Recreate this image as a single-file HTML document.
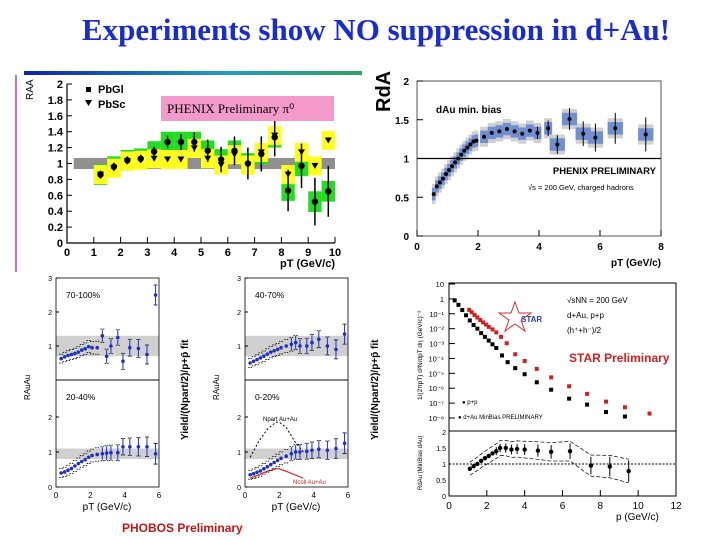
<!DOCTYPE html>
<html><head><meta charset="utf-8"><style>
html,body{margin:0;padding:0;background:#fff}
svg{display:block;font-family:"Liberation Sans",sans-serif}
</style></head><body>
<svg id="s" width="720" height="540" viewBox="0 0 720 540" xmlns="http://www.w3.org/2000/svg">
<defs><linearGradient id="gb" x1="0" x2="1"><stop offset="0" stop-color="#1020b0"/><stop offset="0.6" stop-color="#20a0c0"/><stop offset="1" stop-color="#30a060"/></linearGradient></defs>
<text x="376" y="40" text-anchor="middle" font-family="Liberation Serif,serif" font-weight="bold" font-size="31" fill="#1a2ccc">Experiments show NO suppression in d+Au!</text>
<rect x="24" y="71" width="338" height="4" fill="url(#gb)"/>
<line x1="16" y1="75" x2="16" y2="272" stroke="#b040b0" stroke-width="1.5"/>
<g id="g1"></g>
<g id="g2"></g>
<g id="g3"></g>
<g id="g4"></g>
</svg>
<script>
// ---- PHENIX pi0 ----
const p1Pt=[1.25,1.75,2.25,2.75,3.25,3.75,4.25,4.75,5.25,5.75,6.25,6.75,7.25,7.75,8.25,8.75,9.25,9.75];
const p1PbGl=[0.86,0.96,1.04,1.06,1.15,1.27,1.27,1.27,1.16,1.05,1.16,1.0,1.12,1.33,0.66,0.97,0.52,0.65];
const p1PbSc=[0.86,0.94,1.03,1.04,1.06,1.05,1.05,1.19,1.06,0.98,1.11,0.98,1.14,1.35,0.86,1.14,0.97,1.29];
const p1YTicks=[0,0.2,0.4,0.6,0.8,1,1.2,1.4,1.6,1.8,2];
const p1XTicks=[0,1,2,3,4,5,6,7,8,9,10];
// ---- PHENIX charged ----
const p2Pt=[0.55,0.65,0.75,0.85,0.95,1.05,1.15,1.25,1.35,1.45,1.55,1.65,1.75,1.85,1.95,2.2,2.45,2.7,2.95,3.2,3.45,3.7,3.95,4.3,4.6,5.0,5.45,5.85,6.5,7.5];
const p2R=[0.54,0.64,0.69,0.74,0.8,0.85,0.9,0.95,1.0,1.05,1.1,1.14,1.18,1.22,1.23,1.28,1.33,1.35,1.38,1.35,1.32,1.36,1.33,1.39,1.18,1.51,1.32,1.27,1.39,1.31];
const p2YTicks=[0,0.5,1,1.5,2];
const p2XTicks=[0,2,4,6,8];
// ---- PHOBOS ----
const phPt=[0.3,0.5,0.7,0.9,1.1,1.3,1.5,1.7,1.9,2.1,2.4,2.7,2.95,3.2,3.6,3.9,4.3,4.8,5.3,5.8];
const ph70=[0.63,0.68,0.72,0.75,0.78,0.82,0.88,0.92,0.98,0.95,0.95,1.3,0.7,1.0,1.25,0.55,0.95,0.93,0.75,2.5];
const ph40=[0.5,0.55,0.6,0.65,0.7,0.76,0.82,0.86,0.9,0.95,1.0,1.05,1.1,1.0,1.0,1.1,1.2,1.0,0.9,1.35];
const ph20=[0.4,0.43,0.48,0.53,0.6,0.67,0.73,0.78,0.85,0.9,0.93,0.95,0.97,0.98,0.98,1.15,1.15,1.15,1.15,0.95];
const ph00=[0.35,0.38,0.42,0.46,0.52,0.58,0.64,0.7,0.76,0.82,0.88,0.95,1.0,1.0,1.02,1.05,1.08,1.05,1.1,1.25];
const phCurvePt=[0.3,0.8,1.3,1.8,2.0,2.4,2.9,3.4];
const phNcollBlack=[0.85,1.3,1.65,1.85,1.85,1.7,1.3,1.0];
const phNcollRed=[0.25,0.35,0.45,0.52,0.52,0.45,0.35,0.25];
// ---- STAR ----
const stPpPt=[0.3,0.5,0.7,0.9,1.1,1.3,1.5,1.7,1.9,2.1,2.3,2.5,2.8,3.1,3.5,4.0,4.64,5.4,6.35,7.3,8.3,9.3];
const stPpLog=[-0.1,-0.4,-0.75,-1.1,-1.45,-1.75,-2.0,-2.3,-2.55,-2.8,-3.05,-3.3,-3.8,-4.25,-4.65,-5.06,-5.6,-6.1,-6.7,-7.1,-7.6,-7.9];
const stDaPt=[1.07,1.2,1.35,1.5,1.65,1.8,1.95,2.1,2.3,2.5,2.75,3.05,3.5,4.0,4.64,5.4,6.35,7.3,8.3,9.3,10.6];
const stDaLog=[-0.74,-0.9,-1.08,-1.25,-1.42,-1.58,-1.72,-1.88,-2.05,-2.25,-2.55,-2.98,-3.72,-4.17,-4.7,-5.27,-5.87,-6.38,-6.9,-7.28,-7.7];
const stRPt=[1.1,1.3,1.5,1.7,1.9,2.1,2.3,2.5,2.7,3.0,3.3,3.6,4.0,4.7,5.4,6.4,7.5,8.5,9.5];
const stR=[0.85,0.93,1.0,1.1,1.18,1.25,1.33,1.4,1.5,1.5,1.45,1.47,1.45,1.42,1.38,1.4,0.95,0.92,0.78];
const stLogTicks=[1,0,-1,-2,-3,-4,-5,-6,-7,-8];
const stXTicks=[0,2,4,6,8,10,12];

const NS='http://www.w3.org/2000/svg';
function mk(p,tag,a,txt){const e=document.createElementNS(NS,tag);for(const k in a)e.setAttribute(k,a[k]);if(txt!==undefined)e.textContent=txt;p.appendChild(e);return e;}
function lin(d0,d1,r0,r1){return v=>r0+(v-d0)*(r1-r0)/(d1-d0);}

// ===== Chart 1 =====
(function(){
const g=document.getElementById('g1');
const X=lin(0,10,67,335),Y=lin(0,2,243,84);
let band=mk(g,'rect',{x:X(0.25),y:Y(1.07),width:X(10)-X(0.25),height:Y(0.93)-Y(1.07),fill:'#909090'});


p1Pt.forEach((x,i)=>{
 let r=mk(g,'rect',{x:X(x-0.25),y:Y(p1PbGl[i]+0.13),width:X(0.5)-X(0),height:Y(0)-Y(0.26),fill:'#22dd22'});
 
 
});
p1Pt.forEach((x,i)=>{
 let r=mk(g,'rect',{x:X(x-0.25),y:Y(p1PbSc[i]+0.12),width:X(0.5)-X(0),height:Y(0)-Y(0.24),fill:'#ffff22'});
 
 
});
p1Pt.forEach((x,i)=>{
 const e=0.05+0.04*Math.max(0,x-3);
 let l=mk(g,'line',{x1:X(x),x2:X(x),y1:Y(p1PbGl[i]+e),y2:Y(p1PbGl[i]-e),stroke:'#000','stroke-width':1.5});
 
 
 let c=mk(g,'circle',{cx:X(x),cy:Y(p1PbGl[i]),r:3.2,fill:'#000'});
 
 
 let t=mk(g,'path',{d:`M${X(x)-3.5},${Y(p1PbSc[i])-3}h7l-3.5,6z`,fill:'#000'});
 
 
});
let fr=mk(g,'path',{d:`M${X(0)},${Y(2)}V${Y(0)}H${X(10)}`,stroke:'#000',fill:'none','stroke-width':1.2});


p1YTicks.forEach(v=>{
 mk(g,'line',{x1:X(0),x2:X(0)+5,y1:Y(v),y2:Y(v),stroke:'#000'});
 let t=mk(g,'text',{x:X(0)-4,y:Y(v)+4,'text-anchor':'end','font-size':11,'font-weight':'bold'},v);
 
 
});
p1XTicks.forEach(v=>{
 mk(g,'line',{x1:X(v),x2:X(v),y1:Y(0),y2:Y(0)-6,stroke:'#000'});
 let t=mk(g,'text',{x:X(v),y:Y(0)+13,'text-anchor':'middle','font-size':11,'font-weight':'bold'},v);
 
 
});
let xt=mk(g,'text',{x:335,y:267,'text-anchor':'end','font-size':11,'font-weight':'bold'},'pT (GeV/c)');


let yt=mk(g,'text',{x:33,y:100,'font-size':10,transform:'rotate(-90 33 100)'},'RAA');


mk(g,'rect',{x:86,y:87,width:5,height:5,fill:'#000'});
let l1=mk(g,'text',{x:98,y:93,'font-size':11,'font-weight':'bold'},'PbGl');


mk(g,'path',{d:'M85,100h7l-3.5,6z',fill:'#000'});
let l2=mk(g,'text',{x:98,y:108,'font-size':11,'font-weight':'bold'},'PbSc');


let pb=mk(g,'rect',{x:161,y:96,width:173,height:25,fill:'#f39acb'});


let pt=mk(g,'text',{x:167,y:113,'font-size':13,'font-family':'Liberation Serif,serif'},'PHENIX Preliminary π⁰');


})();

// ===== Chart 2 =====
(function(){
const g=document.getElementById('g2');
const X=lin(0,8,417,661),Y=lin(0,2,236,81);
p2Pt.forEach((x,i)=>{
 const w=i<15?0.06:(i<24?0.13:0.25);
 let r=mk(g,'rect',{x:X(x-w),y:Y(p2R[i]+0.13),width:X(2*w)-X(0),height:Y(0)-Y(0.26),fill:'#d0d0d0'});
 
 
});
p2Pt.forEach((x,i)=>{
 const w=i<15?0.06:(i<24?0.13:0.25);
 let r=mk(g,'rect',{x:X(x-w),y:Y(p2R[i]+0.08),width:X(2*w)-X(0),height:Y(0)-Y(0.16),fill:'#6f8fd0'});
 
 
});
p2Pt.forEach((x,i)=>{
 if(i>=22){let l=mk(g,'line',{x1:X(x),x2:X(x),y1:Y(p2R[i]+0.08+0.02*(i-22)),y2:Y(p2R[i]-0.08-0.02*(i-22)),stroke:'#000'});
 
 }
 let c=mk(g,'circle',{cx:X(x),cy:Y(p2R[i]),r:2,fill:'#000'});
 
 
});
let ref=mk(g,'line',{x1:X(0),x2:X(8),y1:Y(1),y2:Y(1),stroke:'#000','stroke-width':1.3});


let fr=mk(g,'rect',{x:X(0),y:Y(2),width:X(8)-X(0),height:Y(0)-Y(2),fill:'none',stroke:'#555'});


p2YTicks.forEach(v=>{
 mk(g,'line',{x1:X(0),x2:X(0)+6,y1:Y(v),y2:Y(v),stroke:'#000'});
 let t=mk(g,'text',{x:X(0)-8,y:Y(v)+4,'text-anchor':'end','font-size':10,'font-weight':'bold'},v);
 
 
});
p2XTicks.forEach(v=>{
 mk(g,'line',{x1:X(v),x2:X(v),y1:Y(0),y2:Y(0)-6,stroke:'#000'});
 let t=mk(g,'text',{x:X(v),y:Y(0)+14,'text-anchor':'middle','font-size':10,'font-weight':'bold'},v);
 
 
});
let a=mk(g,'text',{x:661,y:266,'text-anchor':'end','font-size':10,'font-weight':'bold'},'pT (GeV/c)');


let b=mk(g,'text',{x:390,y:112,'font-size':20,'font-weight':'bold',transform:'rotate(-90 390 112)'},'RdA');


let c1=mk(g,'text',{x:436,y:113,'font-size':10,'font-weight':'bold'},'dAu min. bias');


let c2=mk(g,'text',{x:656,y:174,'text-anchor':'end','font-size':9.5,'font-weight':'bold'},'PHENIX PRELIMINARY');


let c3=mk(g,'text',{x:528,y:190,'font-size':7.5},'√s = 200 GeV, charged hadrons');


})();

// ===== Chart 3 PHOBOS =====
(function(){
const g=document.getElementById('g3');
const panels=[
 {L:56,top:278,zero:380,unit:34,band:[0.7,1.3],d:ph70,lab:'70-100%',name:'panel-70-100'},
 {L:245,top:278,zero:380,unit:34,band:[0.7,1.3],d:ph40,lab:'40-70%',name:'panel-40-70'},
 {L:56,top:380,zero:487,unit:35,band:[0.8,1.1],d:ph20,lab:'20-40%',name:'panel-20-40'},
 {L:245,top:380,zero:487,unit:35,band:[0.8,1.1],d:ph00,lab:'0-20%',name:'panel-0-20'}];
panels.forEach((p,pi)=>{
 const X=lin(0,6,p.L,p.L+103),Y=lin(0,1,p.zero,p.zero-p.unit);
 const pg=mk(g,'g',{});
 
 
 mk(pg,'rect',{x:X(0),y:Y(p.band[1]),width:103,height:Y(p.band[0])-Y(p.band[1]),fill:'#d0d0d0'});
 if(pi===3){
  let d1=phCurvePt.map((x,i)=>(i?'L':'M')+X(x)+','+Y(phNcollBlack[i])).join('');
  let cb=mk(pg,'path',{d:d1,fill:'none',stroke:'#000','stroke-dasharray':'2,2'});
  
  
  let d2=phCurvePt.map((x,i)=>(i?'L':'M')+X(x)+','+Y(phNcollRed[i])).join('');
  let cr=mk(pg,'path',{d:d2,fill:'none',stroke:'#d02020','stroke-width':1.2});
  
  
  mk(pg,'text',{x:263,y:421,'font-size':6},'Npart Au+Au');
  mk(pg,'text',{x:293,y:484,'font-size':6,fill:'#d02020'},'Ncoll Au+Au');
 }
 p.d.forEach((v,i)=>{
  const x=phPt[i];
  const sy=0.12+0.03*x;
  mk(pg,'path',{d:`M${X(x)-2},${Y(v+sy)}h4M${X(x)-2},${Y(v-sy)}h4`,stroke:'#000','stroke-dasharray':'1.5,1','stroke-width':0.8});
  const e=x>2.5?0.08+0.04*x:0.02;
  let l=mk(pg,'line',{x1:X(x),x2:X(x),y1:Y(v+e),y2:Y(v-e),stroke:'#2030c0'});
  
  
  let c=mk(pg,'circle',{cx:X(x),cy:Y(v),r:1.8,fill:'#2030c0'});
  
  
 });
 mk(pg,'rect',{x:X(0),y:p.top,width:103,height:p.zero-p.top,fill:'none',stroke:'#000','stroke-width':0.8});
 let t=mk(pg,'text',{x:X(0)+10,y:p.top+20,'font-size':8.5},p.lab);
 
 
 const yt=pi<2?[1,2,3]:[0,1,2];
 yt.forEach(v=>{mk(pg,'text',{x:X(0)-4,y:Y(v)+3,'text-anchor':'end','font-size':7},v);mk(pg,'line',{x1:X(0),x2:X(0)+3,y1:Y(v),y2:Y(v),stroke:'#000'});});
 if(pi>=2)[0,2,4,6].forEach(v=>{mk(pg,'text',{x:X(v),y:p.zero+11,'text-anchor':'middle','font-size':8},v);});
});
[30,219].forEach(x=>{
 let t=mk(g,'text',{x:x,y:400,'font-size':8,transform:`rotate(-90 ${x} 400)`},'RAuAu');
 
 
});
[188,378].forEach(x=>{
 let t=mk(g,'text',{x:x,y:440,'font-size':10,'font-weight':'bold',transform:`rotate(-90 ${x} 440)`},'Yield/(Npart/2)/p+p̄ fit');
 
 
});
[[107,510],[296,510]].forEach(a=>{
 let t=mk(g,'text',{x:a[0],y:a[1],'text-anchor':'middle','font-size':10},'pT (GeV/c)');
 
 
});
let pp=mk(g,'text',{x:122,y:532,'font-size':12,'font-weight':'bold',fill:'#c01818'},'PHOBOS Preliminary');


})();

// ===== Chart 4 STAR =====
(function(){
const g=document.getElementById('g4');
const X=lin(0,12,449,676),Y=lin(1,-8,284,418),R=lin(0,2,496,432);
stPpPt.forEach((x,i)=>{
 let c=mk(g,'rect',{x:X(x)-2,y:Y(stPpLog[i])-2,width:4,height:4,fill:'#000'});
 
 
});
stDaPt.forEach((x,i)=>{
 let c=mk(g,'rect',{x:X(x)-2,y:Y(stDaLog[i])-2,width:4,height:4,fill:'#d02020'});
 
 
});
let fr=mk(g,'rect',{x:449,y:283,width:227,height:213,fill:'none',stroke:'#000'});


mk(g,'line',{x1:449,x2:676,y1:431,y2:431,stroke:'#000'});
stLogTicks.forEach(v=>{
 mk(g,'line',{x1:449,x2:455,y1:Y(v),y2:Y(v),stroke:'#000'});
 let t=mk(g,'text',{x:444,y:Y(v)+3,'text-anchor':'end','font-size':7.5});
 t.textContent=v===1?'10':v===0?'1':'10⁻'+'¹²³⁴⁵⁶⁷⁸'[-v-1];
 
 
});
stXTicks.forEach(v=>{
 mk(g,'line',{x1:X(v),x2:X(v),y1:496,y2:490,stroke:'#000'});
 let t=mk(g,'text',{x:X(v),y:509,'text-anchor':'middle','font-size':10},v);
 
 
});
[0,0.5,1,1.5,2].forEach(v=>{mk(g,'text',{x:446,y:R(v)+3,'text-anchor':'end','font-size':7},v);});
let ul=mk(g,'line',{x1:449,x2:676,y1:R(1),y2:R(1),stroke:'#000','stroke-dasharray':'2,1.5'});


let up=stRPt.map((x,i)=>(i?'L':'M')+X(x)+','+R(stR[i]+0.18+0.02*x)).join('');
let lo=stRPt.map((x,i)=>(i?'L':'M')+X(x)+','+R(stR[i]-0.18-0.02*x)).join('');
let eu=mk(g,'path',{d:up,fill:'none',stroke:'#000','stroke-width':0.7,'stroke-dasharray':'4,2'});


let el=mk(g,'path',{d:lo,fill:'none',stroke:'#000','stroke-width':0.7,'stroke-dasharray':'4,2'});


stRPt.forEach((x,i)=>{
 if(x>2.4){let l=mk(g,'line',{x1:X(x),x2:X(x),y1:R(stR[i]+0.05+0.03*x),y2:R(stR[i]-0.05-0.03*x),stroke:'#000'});
 
 }
 let c=mk(g,'circle',{cx:X(x),cy:R(stR[i]),r:2.2,fill:'#000'});
 
 
});
let xt=mk(g,'text',{x:616,y:520,'font-size':10},'p  (GeV/c)');


let yt=mk(g,'text',{x:422,y:400,'font-size':6.5,transform:'rotate(-90 422 400)'},'1/(2πpT) d²N/dpT dη (GeV/c)⁻²');


mk(g,'text',{x:422,y:490,'font-size':6,transform:'rotate(-90 422 490)'},'RdAu (MinBias dAu)');
mk(g,'text',{x:567,y:303,'font-size':8},'√sNN = 200 GeV');
mk(g,'text',{x:567,y:318,'font-size':8},'d+Au, p+p');
mk(g,'text',{x:567,y:333,'font-size':8},'(h⁺+h⁻)/2');
mk(g,'text',{x:462,y:404,'font-size':6},'● p+p');
mk(g,'text',{x:458,y:419,'font-size':6},'● d+Au MinBias  PRELIMINARY');
let st=mk(g,'polygon',{points:'515,302 519,313 531,313 521,320 525,331 515,324 505,331 509,320 499,313 511,313',fill:'none',stroke:'#d03030','stroke-width':1});


mk(g,'text',{x:521,y:322,'font-size':8,'font-weight':'bold',fill:'#3040b0'},'STAR');
let sp=mk(g,'text',{x:569,y:362,'font-size':12,'font-weight':'bold',fill:'#d02020'},'STAR Preliminary');


})();
</script>
</body></html>
